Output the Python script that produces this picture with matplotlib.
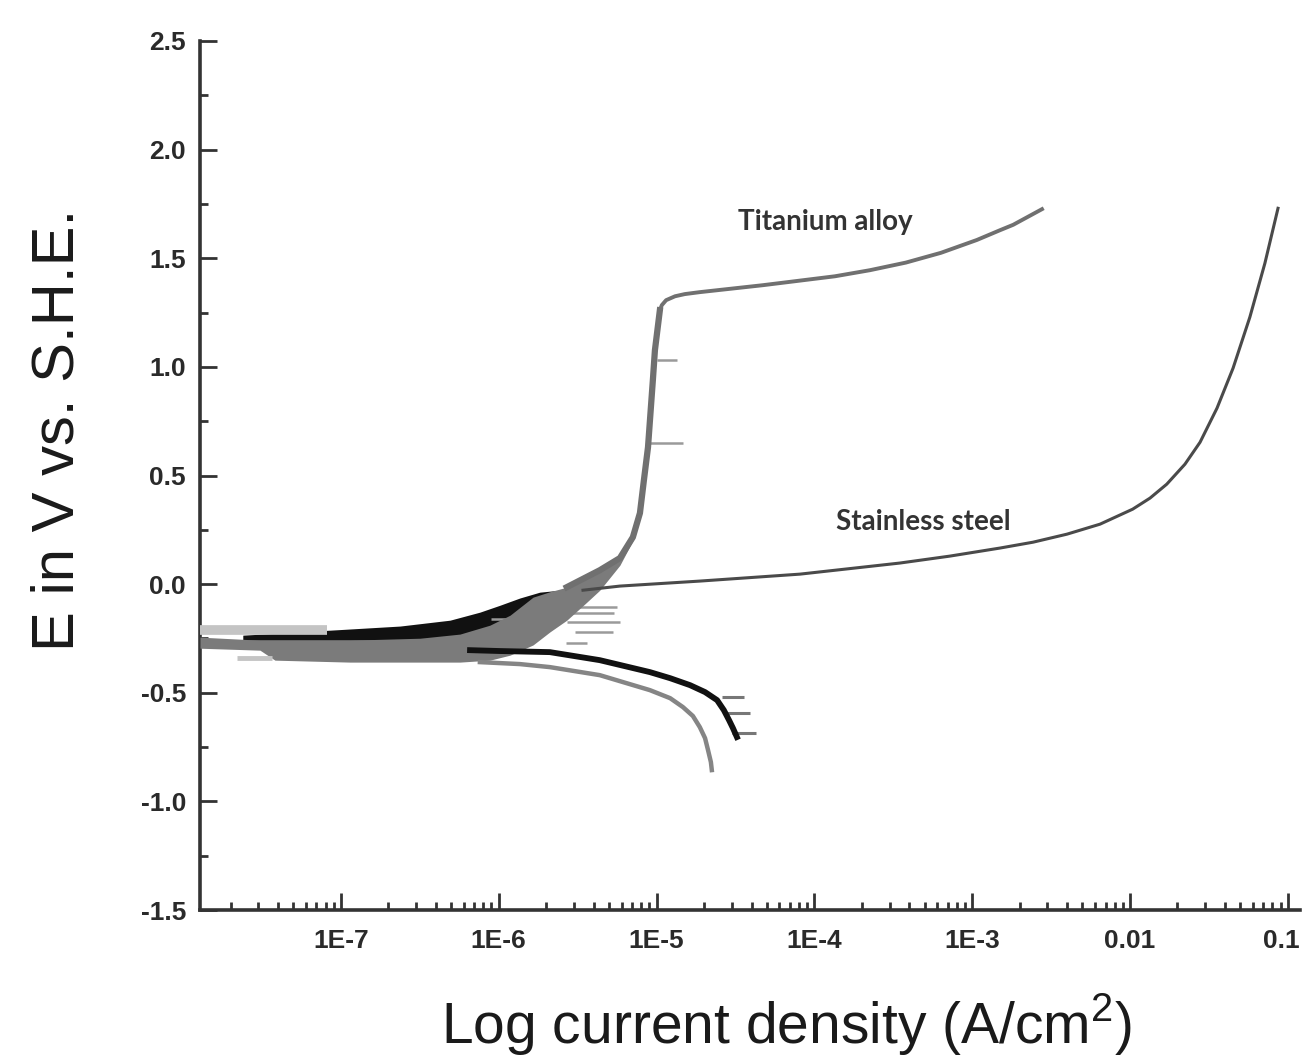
import numpy as np
import matplotlib
matplotlib.use("Agg")
import matplotlib.pyplot as plt
import matplotlib.transforms as mtransforms
from matplotlib.ticker import FixedLocator, LogLocator, MultipleLocator, FormatStrFormatter, NullFormatter

plt.rcParams["font.family"] = ["Liberation Sans", "DejaVu Sans"]
plt.rcParams["mathtext.fontset"] = "custom"
plt.rcParams["mathtext.rm"] = "Liberation Sans"

# --- titanium alloy, anodic branch (A/cm2, V vs SHE)
ti_i = [2.70e-6, 4.37e-6, 5.86e-6, 7.08e-6, 7.85e-6, 8.32e-6, 8.83e-6, 9.48e-6, 9.77e-6,
        1.05e-5, 1.08e-5, 1.15e-5, 1.31e-5, 1.51e-5, 1.88e-5, 4.72e-5, 1.35e-4, 2.25e-4,
        3.80e-4, 6.34e-4, 1.07e-3, 1.50e-3, 1.82e-3, 2.77e-3]
ti_e = [-0.014, 0.064, 0.120, 0.216, 0.327, 0.479, 0.630, 0.939, 1.077,
        1.261, 1.284, 1.307, 1.325, 1.335, 1.344, 1.376, 1.417, 1.445,
        1.480, 1.525, 1.584, 1.629, 1.654, 1.726]

# --- stainless steel, anodic branch
ss_i = [3.42e-6, 5.86e-6, 1.88e-5, 8.11e-5, 3.48e-4, 7.23e-4, 1.50e-3, 2.43e-3, 3.99e-3,
        6.46e-3, 1.04e-2, 1.34e-2, 1.71e-2, 2.23e-2, 2.78e-2, 3.56e-2, 4.50e-2, 5.75e-2,
        7.16e-2, 8.67e-2]
ss_e = [-0.028, -0.009, 0.014, 0.046, 0.097, 0.129, 0.166, 0.193, 0.230,
        0.276, 0.345, 0.396, 0.460, 0.552, 0.653, 0.810, 0.994, 1.229,
        1.477, 1.730]

# --- cathodic branches
cat_black_i = [6.58e-7, 1.02e-6, 2.11e-6, 4.37e-6, 9.08e-6, 1.22e-5, 1.63e-5, 2.03e-5,
               2.42e-5, 2.67e-5, 2.88e-5, 3.05e-5, 3.23e-5]
cat_black_e = [-0.304, -0.308, -0.313, -0.350, -0.405, -0.433, -0.465, -0.497,
               -0.534, -0.580, -0.626, -0.663, -0.704]
cat_gray_i = [7.60e-7, 1.36e-6, 2.11e-6, 4.37e-6, 9.08e-6, 1.22e-5, 1.47e-5, 1.70e-5,
              1.88e-5, 2.03e-5, 2.12e-5, 2.21e-5, 2.24e-5]
cat_gray_e = [-0.359, -0.368, -0.382, -0.419, -0.488, -0.525, -0.566, -0.607,
              -0.658, -0.709, -0.764, -0.819, -0.856]

# --- noisy clusters around the corrosion potential (upper / lower envelopes)
black_band_i = [2.39e-8, 8.51e-8, 2.37e-7, 4.91e-7, 7.60e-7, 1.02e-6, 1.36e-6, 1.82e-6, 2.44e-6, 3.27e-6]
black_band_hi = [-0.235, -0.212, -0.193, -0.166, -0.129, -0.097, -0.064, -0.037, -0.028, -0.018]
black_band_lo = [-0.258, -0.258, -0.258, -0.249, -0.239, -0.221, -0.202, -0.166, -0.129, -0.074]

gray_band_i = [1.28e-8, 3.07e-8, 3.82e-8, 1.14e-7, 3.17e-7, 5.68e-7, 8.79e-7, 1.18e-6, 1.65e-6,
               2.11e-6, 2.70e-6, 3.53e-6, 4.37e-6, 5.86e-6, 7.08e-6]
gray_band_hi = [-0.244, -0.258, -0.258, -0.258, -0.249, -0.230, -0.189, -0.143, -0.060,
                -0.035, -0.014, 0.025, 0.064, 0.120, 0.216]
gray_band_lo = [-0.295, -0.304, -0.350, -0.359, -0.359, -0.359, -0.350, -0.327, -0.280,
                -0.220, -0.166, -0.090, -0.028, 0.087, 0.200]

light_band_i = [1.28e-8, 8.15e-8]
light_band_e = [-0.212, -0.212]
light_short_i = [2.19e-8, 3.66e-8]
light_short_e = [-0.340, -0.340]

# horizontal noise spikes: potential, start, end
spike_e = [1.03, 0.65, -0.106, -0.133, -0.175, -0.220, -0.271, -0.161]
spike_lo = [1.00e-5, 8.90e-6, 3.13e-6, 2.72e-6, 2.72e-6, 3.05e-6, 2.65e-6, 9.0e-7]
spike_hi = [1.35e-5, 1.47e-5, 5.61e-6, 5.40e-6, 5.85e-6, 5.30e-6, 3.60e-6, 1.2e-6]
tail_e = [-0.520, -0.595, -0.685]
tail_lo = [2.6e-5, 2.8e-5, 3.0e-5]
tail_hi = [3.6e-5, 3.9e-5, 4.3e-5]

x_major = [1e-7, 1e-6, 1e-5, 1e-4, 1e-3, 1e-2, 1e-1]
x_labels = ["1E-7", "1E-6", "1E-5", "1E-4", "1E-3", "0.01", "0.1"]

fig = plt.figure(figsize=(13.03, 10.60), dpi=100)
ax = fig.add_axes([200 / 1303, 1 - 910 / 1060, 1100 / 1303, 869 / 1060])

ax.fill_between(black_band_i, black_band_lo, black_band_hi, color="#111111", lw=0, zorder=2)
ax.fill_between(gray_band_i, gray_band_lo, gray_band_hi, color="#7b7b7b", lw=0, zorder=3)
ax.plot(light_band_i, light_band_e, color="#c4c4c4", lw=7, solid_capstyle="butt", zorder=3)
ax.plot(light_short_i, light_short_e, color="#c4c4c4", lw=3.5, solid_capstyle="butt", zorder=3)

ax.plot(cat_gray_i, cat_gray_e, color="#858585", lw=3.2, zorder=4)
ax.plot(cat_black_i, cat_black_e, color="#111111", lw=4.2, zorder=5)
ax.hlines(tail_e, tail_lo, tail_hi, color="#777777", lw=2.2, zorder=4)
ax.hlines(spike_e, spike_lo, spike_hi, color="#9a9a9a", lw=1.8, zorder=2.5)

ax.plot(ss_i, ss_e, color="#4a4a4a", lw=2.2, zorder=5)
ax.plot(ti_i[:10], ti_e[:10], color="#707070", lw=4.5, zorder=6)
ax.plot(ti_i[9:], ti_e[9:], color="#707070", lw=2.8, zorder=6)

ax.text(1.17e-4, 1.666, "Titanium alloy", family=["Lato", "DejaVu Sans"], fontweight="bold",
        fontsize=20, color="#333333", ha="center", va="center")
ax.text(4.88e-4, 0.285, "Stainless steel", family=["Lato", "DejaVu Sans"], fontweight="bold",
        fontsize=20, color="#333333", ha="center", va="center")

ax.set_xscale("log")
ax.set_xlim(1.28e-8, 0.1195)
ax.set_ylim(-1.5, 2.5)
ax.xaxis.set_major_locator(FixedLocator(x_major))
ax.xaxis.set_minor_locator(LogLocator(base=10, subs=np.arange(2, 10)))
ax.xaxis.set_minor_formatter(NullFormatter())
ax.set_xticklabels(x_labels)
ax.yaxis.set_major_locator(MultipleLocator(0.5))
ax.yaxis.set_minor_locator(MultipleLocator(0.25))
ax.yaxis.set_major_formatter(FormatStrFormatter("%.1f"))

for s in ("top", "right"):
    ax.spines[s].set_visible(False)
for s in ("left", "bottom"):
    ax.spines[s].set_linewidth(2.6)
    ax.spines[s].set_color("#333333")

ax.tick_params(which="both", direction="in", color="#333333", width=2)
ax.tick_params(which="major", length=12, labelsize=19, labelcolor="#2a2a2a")
ax.tick_params(which="minor", length=6)
ax.tick_params(axis="x", which="major", pad=14)
ax.tick_params(axis="y", which="major", pad=10)
for lab in ax.get_xticklabels() + ax.get_yticklabels():
    lab.set_fontweight("bold")

# keep the last x label inside the canvas
last = ax.get_xticklabels()[-1]
last.set_transform(last.get_transform() + mtransforms.ScaledTranslation(-6 / 100, 0, fig.dpi_scale_trans))

ax.set_xlabel(r"Log current density (A/cm$^{\mathrm{2}}$)", fontsize=41, color="#1a1a1a")
ax.set_ylabel("E in V vs. S.H.E.", fontsize=43, color="#1a1a1a")
ax.xaxis.set_label_coords(0.533, -0.094)
ax.yaxis.set_label_coords(-0.104, 0.552)

fig.savefig("out.png", dpi=100)
